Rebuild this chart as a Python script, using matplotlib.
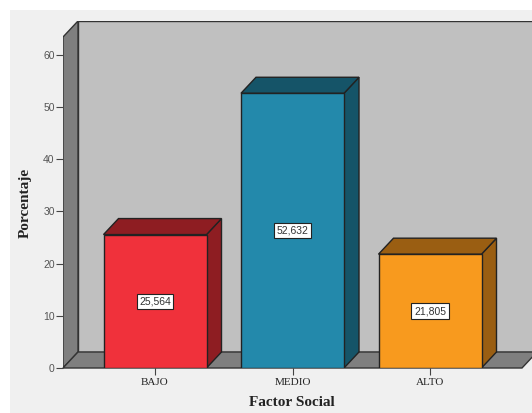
import matplotlib
matplotlib.use('Agg')
import matplotlib.pyplot as plt
from matplotlib.patches import Polygon, Rectangle

categorias = ['BAJO', 'MEDIO', 'ALTO']
porcentajes = [25.564, 52.632, 21.805]
etiquetas = ['25,564', '52,632', '21,805']
frente = ['#f0313b', '#2389ab', '#f89a1e']
oscuro = ['#8e1d22', '#155468', '#9a5e12']

W, H = 532, 413
fig = plt.figure(figsize=(W / 100, H / 100), dpi=100)
fig.patch.set_facecolor('white')
# fondo gris claro (deja una franja blanca arriba y a la izquierda)
fig.patches.append(Rectangle((10 / W, 0), 1, (H - 10) / H, transform=fig.transFigure,
                             facecolor='#f0f0f0', edgecolor='none', zorder=-10))

px_cat = 137.5     # pixeles por categoria
px_val = 5.22      # pixeles por unidad de porcentaje
x0, y0 = 155, 368  # pixel de la categoria 0 y del valor 0
izq, der, arriba = 63, 540, 21

ax = fig.add_axes([izq / W, (H - y0) / H, (der - izq) / W, (y0 - arriba) / H])
xmin = (izq - x0) / px_cat
xmax = (der - x0) / px_cat
ymax = (y0 - arriba) / px_val
ax.set_xlim(xmin, xmax)
ax.set_ylim(0, ymax)
ax.patch.set_visible(False)

dx = 15 / px_cat   # profundidad
dy = 16 / px_val
xder = (522 - x0) / px_cat
ytop = ymax - dy
lw = 1.0

# pared del fondo
ax.add_patch(Polygon([(xmin + dx, dy), (xmax + 1, dy), (xmax + 1, ymax), (xmin + dx, ymax)],
                     closed=True, facecolor='#c0c0c0', edgecolor='#333333', lw=lw, zorder=1))
# pared izquierda
ax.add_patch(Polygon([(xmin, 0), (xmin + dx, dy), (xmin + dx, ymax), (xmin, ytop)],
                     closed=True, facecolor='#7f7f7f', edgecolor='#333333', lw=lw, zorder=2))
# piso
ax.add_patch(Polygon([(xmin, 0), (xder, 0), (xder + dx, dy), (xmin + dx, dy)],
                     closed=True, facecolor='#7f7f7f', edgecolor='#333333', lw=lw, zorder=2,
                     clip_on=False))

ancho = 103 / px_cat
for i, (v, f, o, t) in enumerate(zip(porcentajes, frente, oscuro, etiquetas)):
    a, b = i - ancho / 2, i + ancho / 2
    ax.add_patch(Polygon([(b, 0), (b + dx, dy), (b + dx, v + dy), (b, v)],
                         closed=True, facecolor=o, edgecolor='#222222', lw=lw, zorder=3))
    ax.add_patch(Polygon([(a, v), (b, v), (b + dx, v + dy), (a + dx, v + dy)],
                         closed=True, facecolor=o, edgecolor='#222222', lw=lw, zorder=3))
    ax.add_patch(Rectangle((a, 0), ancho, v, facecolor=f, edgecolor='#222222', lw=lw, zorder=4))
    ax.text(i, v / 2, t, ha='center', va='center', fontsize=7.5, family='Liberation Sans',
            color='#333333', zorder=5,
            bbox=dict(boxstyle='square,pad=0.25', facecolor='white', edgecolor='#222222', lw=0.8))

for s in ['top', 'right', 'bottom']:
    ax.spines[s].set_visible(False)
ax.spines['left'].set_visible(False)

ax.set_yticks([0, 10, 20, 30, 40, 50, 60])
ax.tick_params(axis='y', length=5, width=0.8, color='#444444', labelsize=7.5,
               labelcolor='#555555', pad=1)
for lab in ax.get_yticklabels():
    lab.set_family('Liberation Sans')
ax.set_xticks(range(len(categorias)))
ax.set_xticklabels(categorias, family='Liberation Serif', fontsize=8, color='#222222')
ax.tick_params(axis='x', length=5, width=0.8, color='#444444', pad=2)

fig.text(292 / W, 1 - 403 / H, 'Factor Social', ha='center', va='center',
         family='Liberation Serif', fontweight='bold', fontsize=11, color='#222222')
fig.text(25 / W, 1 - 203 / H, 'Porcentaje', ha='center', va='center', rotation=90,
         family='Liberation Serif', fontweight='bold', fontsize=11, color='#222222')

fig.savefig('out.png', dpi=100, facecolor=fig.get_facecolor())
